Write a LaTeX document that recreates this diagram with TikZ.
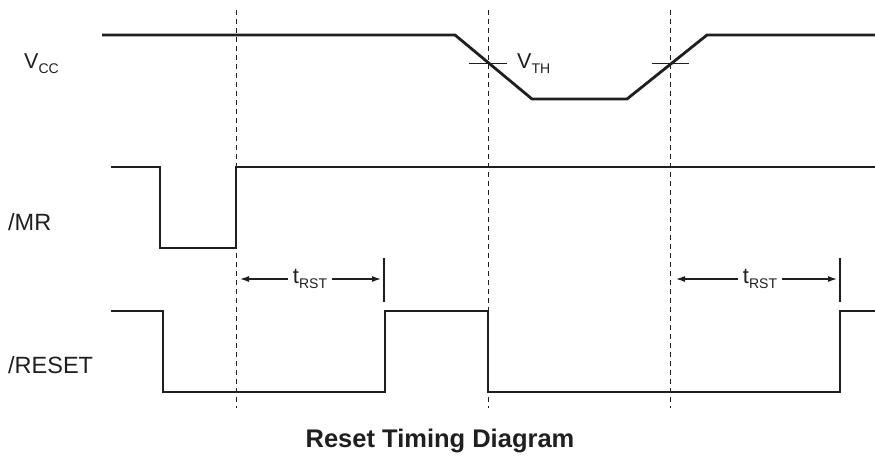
\documentclass[tikz,border=0pt]{standalone}
\usepackage{fontspec}
\setmainfont{Liberation Sans}
\usetikzlibrary{arrows.meta}
\newcommand{\sbs}[1]{\raisebox{-5.5pt}{\fontsize{14}{14}\selectfont #1}}
\begin{document}
\begin{tikzpicture}[x=1pt,y=-1pt,
  ink/.style={color=black!88},
  sig/.style={ink, line width=2.8pt, line join=miter},
  guide/.style={ink, line width=0.9pt, dash pattern=on 5pt off 4pt},
  tickln/.style={ink, line width=1pt},
  bar/.style={ink, line width=1.2pt},
  dim/.style={ink, line width=1.2pt, -{Latex[length=9pt,width=6pt]}},
  lbl/.style={ink, font=\fontsize{23.5}{26}\selectfont, anchor=base west, inner sep=0pt},
  vlbl/.style={ink, font=\fontsize{21.5}{24}\selectfont, anchor=base west, inner sep=0pt},
  tlbl/.style={ink, font=\fontsize{22}{24}\selectfont, inner xsep=5pt, inner ysep=0pt},
  title/.style={ink, font=\bfseries\fontsize{25.5}{28}\selectfont, anchor=base, inner sep=0pt}]
\useasboundingbox (0,0) rectangle (875,466);

% guide lines
\draw[guide] (236,10) -- (236,408);
\draw[guide] (488,10) -- (488,408);
\draw[guide] (670,10) -- (670,408);

% labels
\node[vlbl] (vcc) at (24,68) {V\sbs{CC}};
\node[lbl] (mr) at (8,230) {/MR};
\node[lbl] (rst) at (8,373) {/RESET};
\node[vlbl] (vth) at (517,68) {V\sbs{TH}};

% Vcc waveform
\draw[sig] (102,35) -- (455,35) -- (532,99) -- (627,99) -- (707,35) -- (875,35);
\draw[tickln] (469,63) -- (507,63);
\draw[tickln] (652,63) -- (689,63);

% /MR waveform
\draw[sig] (111,167) -- (160,167) -- (160,248) -- (236,248) -- (236,167) -- (875,167);

% /RESET waveform
\draw[sig] (111,311) -- (163,311) -- (163,392) -- (385,392) -- (385,311) -- (488,311)
  -- (488,392) -- (840,392) -- (840,311) -- (875,311);

% tRST dimensions
\coordinate (a1) at (240,279);
\coordinate (b1) at (381,279);
\coordinate (a2) at (676,279);
\coordinate (b2) at (837,279);
\draw[bar] (384,258) -- (384,302);
\draw[bar] (840,258) -- (840,302);
\node[tlbl] (t1) at (310,279) {t\sbs{RST}};
\node[tlbl] (t2) at (760,279) {t\sbs{RST}};
\draw[dim] (t1.west) -- (a1 |- t1.west);
\draw[dim] (t1.east) -- (b1 |- t1.east);
\draw[dim] (t2.west) -- (a2 |- t2.west);
\draw[dim] (t2.east) -- (b2 |- t2.east);

% title
\node[title] (ttl) at (440,447) {Reset Timing Diagram};
\end{tikzpicture}
\end{document}
